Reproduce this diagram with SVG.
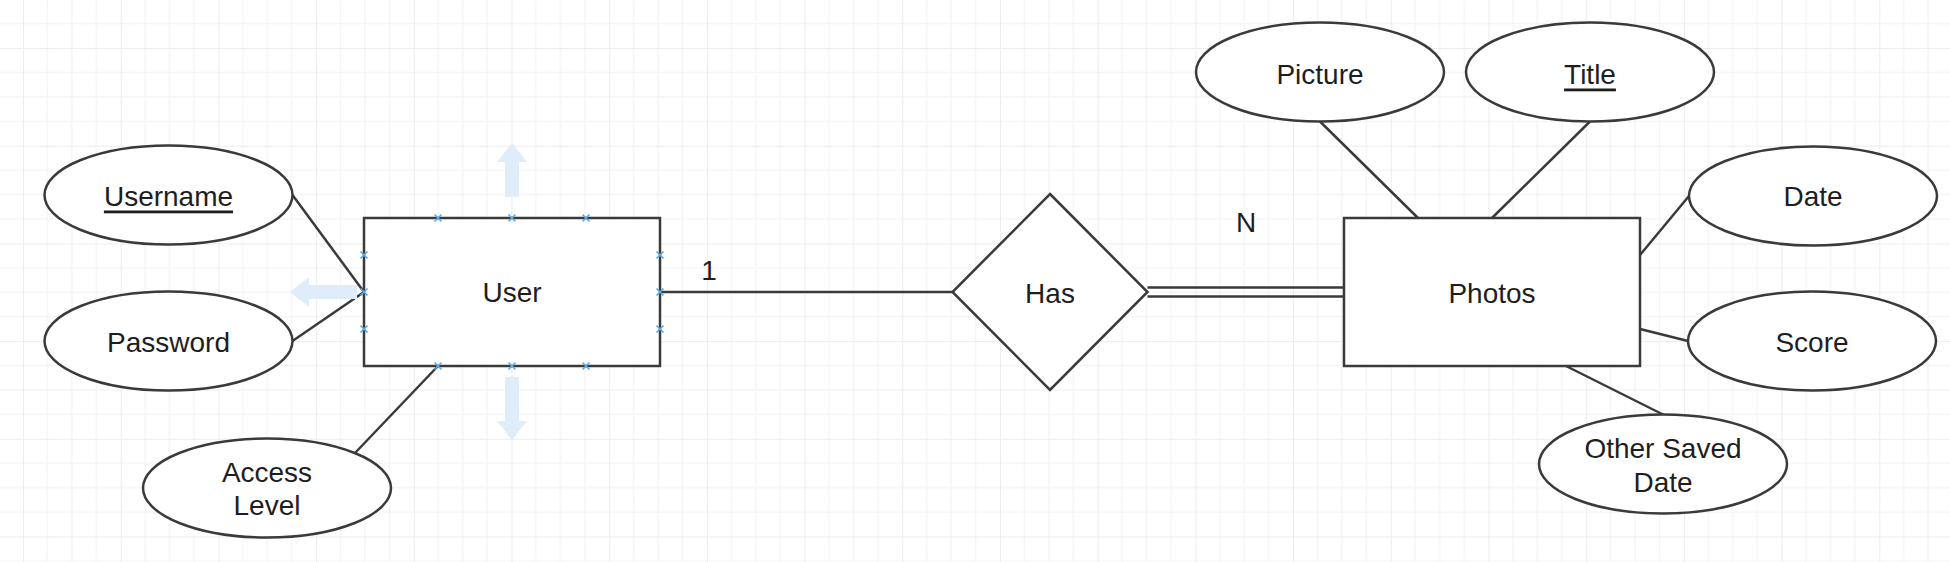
<svg xmlns="http://www.w3.org/2000/svg" width="1950" height="562" viewBox="0 0 1950 562">
  <defs>
    <pattern id="grid" patternUnits="userSpaceOnUse" x="23" y="48" width="97.7" height="97.7">
      <path d="M24.43 0V97.7M48.85 0V97.7M73.28 0V97.7M0 24.43H97.7M0 48.85H97.7M0 73.28H97.7" stroke="#f5f5f5" stroke-width="1.5" fill="none"/>
      <path d="M0 0V97.7M0 0H97.7" stroke="#ececec" stroke-width="2" fill="none"/>
    </pattern>
    <g id="pt">
      <path d="M-3.5 -3.5L3.5 3.5M-3.5 3.5L3.5 -3.5" stroke="#5aaae8" stroke-width="1.6" fill="none"/>
    </g>
  </defs>
  <style>
    .shape { fill: #ffffff; stroke: #3a3a3a; stroke-width: 2.5; }
    .edge { stroke: #3a3a3a; stroke-width: 2.5; fill: none; }
    .lbl { font-family: "Liberation Sans", Arial, sans-serif; font-size: 28px; fill: #1e1e1e; text-anchor: middle; dominant-baseline: central; }
    .u { text-decoration: underline; }
    .hint { fill: #dfecfa; stroke: none; }
  </style>

  <rect x="0" y="0" width="1950" height="562" fill="#ffffff"/>
  <rect x="0" y="0" width="1950" height="562" fill="url(#grid)"/>

  <g id="connectors">
    <line class="edge" x1="292.5" y1="195" x2="364" y2="292"/>
    <line class="edge" x1="292.5" y1="341" x2="364" y2="292"/>
    <line class="edge" x1="438" y1="366" x2="355" y2="453"/>
    <line class="edge" x1="660" y1="292" x2="952.5" y2="292"/>
    <line class="edge" x1="1147.5" y1="287.5" x2="1344" y2="287.5"/>
    <line class="edge" x1="1147.5" y1="296.5" x2="1344" y2="296.5"/>
    <line class="edge" x1="1320" y1="121.5" x2="1418" y2="218"/>
    <line class="edge" x1="1590" y1="121.5" x2="1492" y2="218"/>
    <line class="edge" x1="1689" y1="196" x2="1640" y2="255"/>
    <line class="edge" x1="1688" y1="341" x2="1640" y2="329"/>
    <line class="edge" x1="1566" y1="366" x2="1663" y2="414.5"/>
    <text class="lbl" x="709" y="270">1</text>
    <text class="lbl" x="1246" y="222">N</text>
  </g>

  <g id="user">
    <rect class="shape" x="364" y="218" width="296" height="148"/>
    <text class="lbl" x="512" y="292">User</text>
  </g>
  <g id="user-hints">
    <path class="hint" d="M512 143L527 162H519V197H505V162H497Z"/>
    <path class="hint" d="M512 440L527 421H519V377H505V421H497Z"/>
    <path class="hint" d="M290 292L309 277V285H357V299H309V307Z"/>
    <use href="#pt" x="438" y="218"/><use href="#pt" x="512" y="218"/><use href="#pt" x="586" y="218"/>
    <use href="#pt" x="438" y="366"/><use href="#pt" x="512" y="366"/><use href="#pt" x="586" y="366"/>
    <use href="#pt" x="364" y="255"/><use href="#pt" x="364" y="292"/><use href="#pt" x="364" y="329"/>
    <use href="#pt" x="660" y="255"/><use href="#pt" x="660" y="292"/><use href="#pt" x="660" y="329"/>
  </g>

  <g id="username">
    <ellipse class="shape" cx="168.5" cy="195" rx="124" ry="49.5"/>
    <text class="lbl u" x="168.5" y="196">Username</text>
  </g>
  <g id="password">
    <ellipse class="shape" cx="168.5" cy="341" rx="124" ry="49.5"/>
    <text class="lbl" x="168.5" y="342">Password</text>
  </g>
  <g id="access-level">
    <ellipse class="shape" cx="267" cy="488" rx="124" ry="49.5"/>
    <text class="lbl" x="267" y="472">Access</text>
    <text class="lbl" x="267" y="505">Level</text>
  </g>

  <g id="has">
    <path class="shape" d="M1050 194L1147.5 292L1050 390L952.5 292Z"/>
    <text class="lbl" x="1050" y="293">Has</text>
  </g>

  <g id="photos">
    <rect class="shape" x="1344" y="218" width="296" height="148"/>
    <text class="lbl" x="1492" y="293">Photos</text>
  </g>
  <g id="picture">
    <ellipse class="shape" cx="1320" cy="72" rx="124" ry="49.5"/>
    <text class="lbl" x="1320" y="74">Picture</text>
  </g>
  <g id="title">
    <ellipse class="shape" cx="1590" cy="72" rx="124" ry="49.5"/>
    <text class="lbl u" x="1590" y="74">Title</text>
  </g>
  <g id="date">
    <ellipse class="shape" cx="1813" cy="196" rx="124" ry="49.5"/>
    <text class="lbl" x="1813" y="196">Date</text>
  </g>
  <g id="score">
    <ellipse class="shape" cx="1812" cy="341" rx="124" ry="49.5"/>
    <text class="lbl" x="1812" y="342">Score</text>
  </g>
  <g id="other-saved-date">
    <ellipse class="shape" cx="1663" cy="464" rx="124" ry="49.5"/>
    <text class="lbl" x="1663" y="448">Other Saved</text>
    <text class="lbl" x="1663" y="482">Date</text>
  </g>
</svg>
